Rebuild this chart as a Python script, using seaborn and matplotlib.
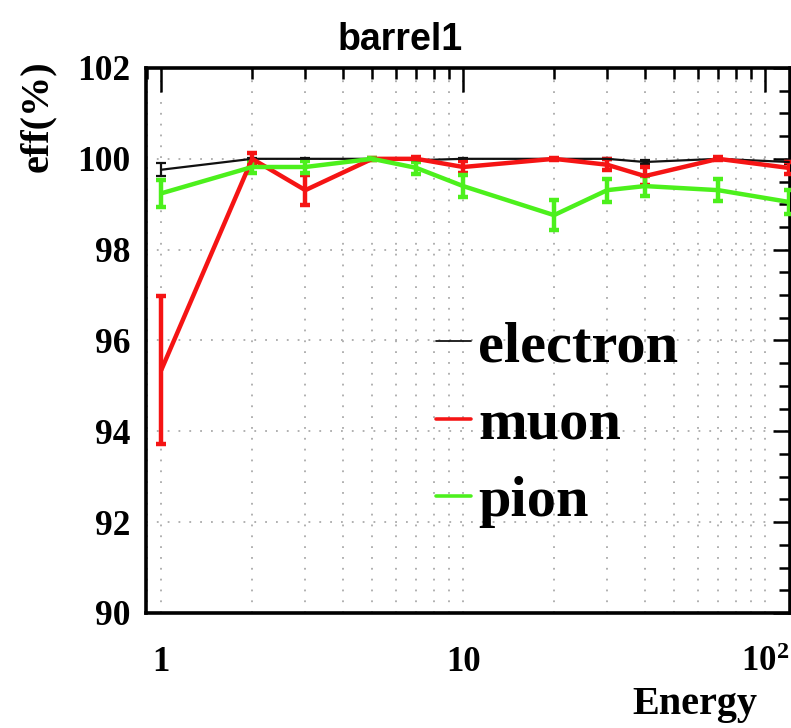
import numpy as np
import pandas as pd
import matplotlib
matplotlib.use("Agg")
import matplotlib.pyplot as plt
import matplotlib.ticker as mticker
import seaborn as sns

# Beam energies and selection efficiencies (%) per particle type
energy = [1, 2, 3, 5, 7, 10, 20, 30, 40, 70, 120]
eff_electron = [99.76, 100.0, 100.0, 100.0, 99.97, 100.0, 100.0, 100.0, 99.93, 100.0, 99.93]
err_electron = [0.14, 0.02, 0.02, 0.02, 0.03, 0.02, 0.02, 0.02, 0.05, 0.02, 0.05]
eff_muon = [95.35, 100.0, 99.31, 100.0, 100.0, 99.82, 100.0, 99.87, 99.62, 100.0, 99.80]
err_muon = [1.62, 0.12, 0.33, 0.02, 0.03, 0.13, 0.02, 0.12, 0.19, 0.03, 0.13]
eff_pion = [99.24, 99.82, 99.82, 100.0, 99.80, 99.40, 98.76, 99.31, 99.40, 99.31, 99.05]
err_pion = [0.30, 0.14, 0.14, 0.02, 0.13, 0.25, 0.33, 0.25, 0.22, 0.24, 0.27]

particles = ["electron", "muon", "pion"]
colors = {"electron": "#111111", "muon": "#f51414", "pion": "#4cf01c"}
widths = {"electron": 1.6, "muon": 3.2, "pion": 3.2}

df = pd.DataFrame({
    "Energy": energy * 3,
    "eff": eff_electron + eff_muon + eff_pion,
    "err": err_electron + err_muon + err_pion,
    "particle": np.repeat(particles, len(energy)),
})

sns.set_theme(style="white")
plt.rcParams["font.family"] = ["Liberation Serif", "DejaVu Serif"]
plt.rcParams["font.weight"] = "bold"
plt.rcParams["text.color"] = "black"
plt.rcParams["axes.labelcolor"] = "black"
plt.rcParams["xtick.color"] = "black"
plt.rcParams["ytick.color"] = "black"
plt.rcParams["mathtext.fontset"] = "custom"
plt.rcParams["mathtext.rm"] = "Liberation Serif:bold"
plt.rcParams["mathtext.it"] = "Liberation Serif:bold"
plt.rcParams["mathtext.bf"] = "Liberation Serif:bold"

fig = plt.figure(figsize=(7.91, 7.28), dpi=100)
ax = fig.add_axes([0.1846, 0.158, 0.8141, 0.7486])

for p in particles:
    sub = df[df["particle"] == p]
    ax.errorbar(sub["Energy"], sub["eff"], yerr=sub["err"], fmt="none",
                ecolor=colors[p], elinewidth=widths[p], capsize=3.5,
                capthick=widths[p], zorder=3)

sns.lineplot(data=df, x="Energy", y="eff", hue="particle", hue_order=particles,
             palette=colors, size="particle", sizes=widths, estimator=None,
             sort=False, ax=ax, legend=False, zorder=4)

ax.set_xscale("log")
ax.set_xlim(0.89, 121)
ax.set_ylim(90, 102)

ax.yaxis.set_major_locator(mticker.MultipleLocator(2))
ax.yaxis.set_minor_locator(mticker.MultipleLocator(0.5))
ax.xaxis.set_major_locator(mticker.FixedLocator([1, 10, 100]))
ax.xaxis.set_minor_locator(mticker.LogLocator(base=10, subs=np.arange(2, 10)))
ax.xaxis.set_minor_formatter(mticker.NullFormatter())
ax.set_xticklabels(["1", "10", "$10^{2}$"])

ax.tick_params(axis="both", which="both", direction="in", top=True, right=True,
               width=1.8, color="black", labelcolor="black")
ax.tick_params(axis="x", which="major", length=17, pad=24, labelsize=25)
ax.tick_params(axis="x", which="minor", length=8)
ax.tick_params(axis="y", which="major", length=12, pad=11, labelsize=25.5)
ax.tick_params(axis="y", which="minor", length=8)
for lab in ax.get_xticklabels() + ax.get_yticklabels():
    lab.set_fontweight("bold")

ax.grid(True, which="major", axis="y", color="#aaaaaa", linestyle=(0, (1, 5)), linewidth=1.3)
ax.grid(True, which="both", axis="x", color="#aaaaaa", linestyle=(0, (1, 5)), linewidth=1.3)

for s in ax.spines.values():
    s.set_color("black")
    s.set_linewidth(2.6)

ax.set_xlabel("")
ax.set_ylabel("")
fig.text(0.958, 0.032, "Energy", ha="right", va="center", fontsize=29, fontweight="bold")
fig.text(0.047, 0.917, "eff(%)", ha="center", va="top", rotation=90, fontsize=29, fontweight="bold")
fig.text(0.506, 0.945, "barrel1", ha="center", va="center", fontsize=27,
         fontweight="bold", family=["Liberation Sans", "DejaVu Sans"])

handles = [plt.Line2D([], [], color=colors[p], linewidth=widths[p] * 0.8) for p in particles]
ax.legend(handles, particles, loc="upper left", bbox_to_anchor=(436 / 791, 1 - 321 / 728),
          bbox_transform=fig.transFigure, frameon=False, borderpad=0, borderaxespad=0,
          handlelength=0.6, handletextpad=0.12, labelspacing=0.42,
          prop={"family": "Liberation Serif", "weight": "bold", "size": 42})

fig.savefig("out.png", dpi=100)
